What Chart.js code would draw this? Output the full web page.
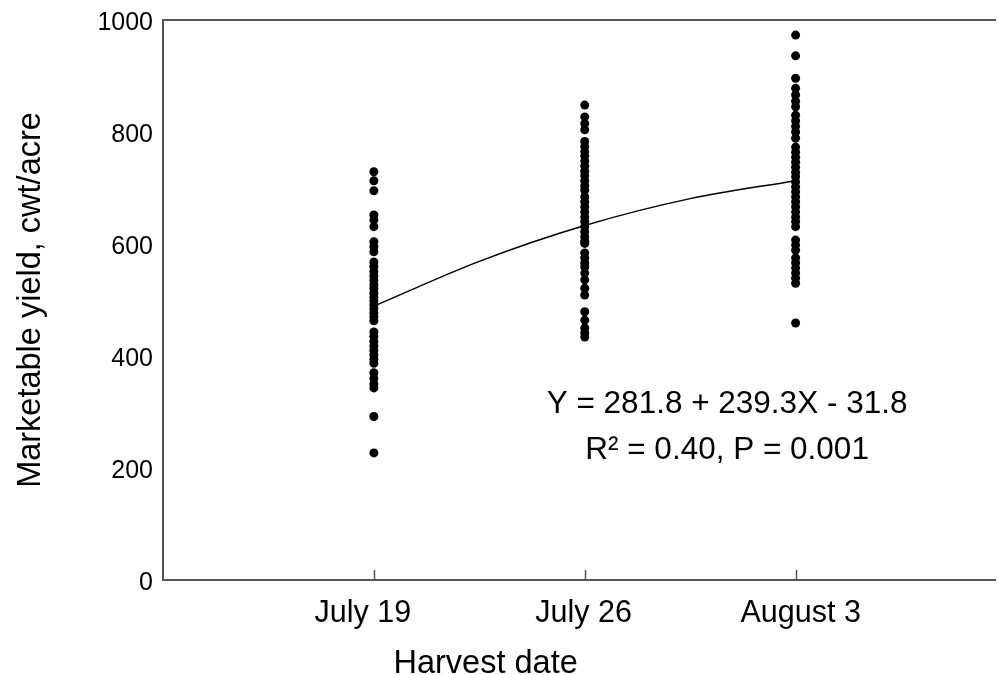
<!DOCTYPE html>
<html><head><meta charset="utf-8">
<script src="https://cdn.jsdelivr.net/npm/chart.js@4"></script>
<style>html,body{margin:0;padding:0;background:#fff;overflow:hidden}</style>
</head><body>
<canvas id="c" width="1000" height="675"></canvas>
<script>
const categories = ['July 19', 'July 26', 'August 3'];
const yieldJuly19 = [729, 713, 695, 652, 643, 631, 604, 595, 586, 568, 560, 551, 543, 535, 527, 520, 512, 505, 498, 491, 484, 477, 470, 463, 443, 435, 426, 418, 410, 402, 394, 387, 370, 360, 350, 343, 292, 227];
const yieldJuly26 = [848, 827, 815, 804, 783, 774, 765, 757, 748, 739, 730, 722, 713, 704, 696, 684, 675, 666, 657, 648, 640, 631, 622, 613, 605, 601, 584, 575, 566, 559, 548, 536, 521, 509, 479, 464, 450, 441, 434];
const yieldAug3 = [973, 936, 896, 878, 866, 855, 845, 830, 820, 810, 800, 789, 773, 764, 755, 746, 737, 728, 720, 711, 702, 693, 684, 675, 666, 657, 648, 640, 631, 607, 598, 589, 575, 566, 557, 548, 539, 530, 459];
const fitX = [1, 1.5, 2, 2.5, 3];
const fitY = [489, 569, 633, 681, 713];
const yTickStep = 200;
const yMin = 0, yMax = 1000;
const xTitle = 'Harvest date';
const yTitle = 'Marketable yield, cwt/acre';
const equationLines = ['Y = 281.8 + 239.3X - 31.8', 'R\u00B2 = 0.40, P = 0.001'];

// layout constants (not data)
const labelAnchor = [0.948, 1.995, 3.024];
const equationPos = {x: 2.675, y1: 314, y2: 232};
const xTitlePos = {x: 1.53, py: 664};

const FONT = '"Liberation Sans", Arial, sans-serif';
const AXIS = '#555';

const seriesList = [yieldJuly19, yieldJuly26, yieldAug3];
const scatterPoints = [];
seriesList.forEach((arr, i) => arr.forEach(v => scatterPoints.push({x: i + 1, y: v})));
const fitPoints = fitX.map((x, i) => ({x: x, y: fitY[i]}));

const annot = {
  id: 'annot',
  afterDatasetsDraw(chart) {
    const {ctx, scales: {x, y}, chartArea} = chart;
    ctx.save();
    // inward tick marks at category positions
    ctx.strokeStyle = AXIS;
    ctx.lineWidth = 1.5;
    categories.forEach((c, i) => {
      const px = Math.round(x.getPixelForValue(i + 1)) + 0.5;
      ctx.beginPath();
      ctx.moveTo(px, chartArea.bottom);
      ctx.lineTo(px, chartArea.bottom - 10);
      ctx.stroke();
    });
    ctx.fillStyle = '#000';
    ctx.textAlign = 'center';
    ctx.textBaseline = 'middle';
    ctx.font = '31.5px ' + FONT;
    ctx.fillText(equationLines[0], x.getPixelForValue(equationPos.x), y.getPixelForValue(equationPos.y1));
    ctx.fillText(equationLines[1], x.getPixelForValue(equationPos.x), y.getPixelForValue(equationPos.y2));
    ctx.font = '32.5px ' + FONT;
    ctx.fillText(xTitle, x.getPixelForValue(xTitlePos.x), xTitlePos.py);
    ctx.restore();
  }
};

new Chart(document.getElementById('c'), {
  type: 'scatter',
  data: {
    datasets: [
      {
        type: 'line',
        data: fitPoints,
        borderColor: '#000',
        borderWidth: 1.5,
        pointRadius: 0,
        fill: false,
        tension: 0.4,
        cubicInterpolationMode: 'monotone'
      },
      {
        data: scatterPoints,
        backgroundColor: '#000',
        borderColor: '#000',
        borderWidth: 0,
        pointRadius: 4.5,
        pointHoverRadius: 4.5
      }
    ]
  },
  options: {
    responsive: false,
    animation: false,
    devicePixelRatio: 1,
    layout: {padding: 0},
    plugins: {legend: {display: false}, tooltip: {enabled: false}},
    scales: {
      x: {
        type: 'linear',
        position: 'bottom',
        min: 0,
        max: 3.948,
        afterBuildTicks: s => { s.ticks = labelAnchor.map(v => ({value: v})); },
        afterFit: s => { s.height = 95; s.paddingLeft = 0; s.paddingRight = 0; },
        ticks: {
          callback: (v, i) => categories[i],
          font: {family: FONT, size: 30.5, lineHeight: 1},
          color: '#000',
          padding: 18,
          maxRotation: 0,
          autoSkip: false
        },
        grid: {display: false, drawOnChartArea: false, drawTicks: false},
        border: {display: true, color: AXIS, width: 2}
      },
      xTop: {
        type: 'linear',
        position: 'top',
        min: 0,
        max: 3.948,
        afterFit: s => { s.height = 20; s.paddingLeft = 0; s.paddingRight = 0; },
        ticks: {display: false},
        grid: {drawOnChartArea: false, drawTicks: false},
        border: {display: true, color: AXIS, width: 2}
      },
      y: {
        type: 'linear',
        position: 'left',
        min: yMin,
        max: yMax,
        afterFit: s => { s.width = 163; s.paddingTop = 0; s.paddingBottom = 0; },
        ticks: {
          stepSize: yTickStep,
          callback: v => String(v),
          font: {family: FONT, size: 25},
          color: '#000',
          padding: 10,
          labelOffset: 3
        },
        grid: {display: false, drawTicks: false},
        border: {display: true, color: AXIS, width: 2},
        title: {
          display: true,
          text: yTitle,
          font: {family: FONT, size: 32.5, lineHeight: 1},
          color: '#000',
          padding: {top: 15, bottom: 0}
        }
      }
    }
  },
  plugins: [annot]
});
</script>
</body></html>
